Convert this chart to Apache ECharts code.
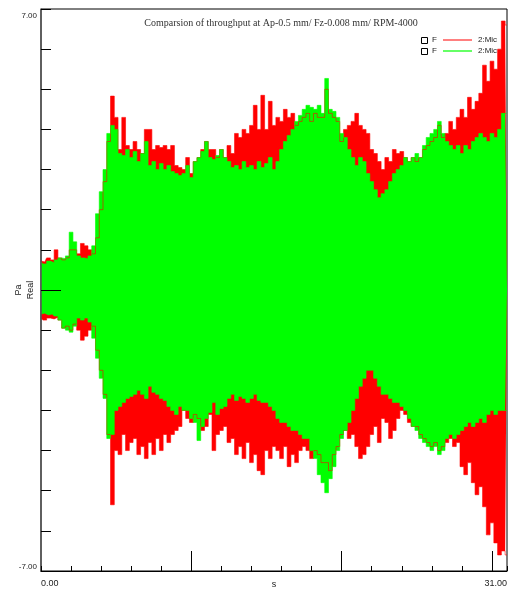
<!DOCTYPE html>
<html>
<head>
<meta charset="utf-8">
<script src="https://cdn.jsdelivr.net/npm/echarts@6/dist/echarts.min.js"></script>
<style>
  html, body { margin: 0; padding: 0; background: #fff; }
  #chart { width: 510px; height: 595px; }
</style>
</head>
<body>
<div id="chart"></div>
<script>
// sampling of the envelope readings (s)
var tStep = 0.25;

// Red trace envelope (F / 2:Mic, first run), Pa
var redUpper = [
  0.72,0.70,0.80,0.75, 1.00,0.80,0.75,0.80, 1.00,1.00,0.90,1.16, 1.10,1.00,0.90,1.30,
  2.00,2.70,3.70,4.83, 4.30,3.50,4.30,3.60, 3.50,3.70,3.50,3.40, 4.00,4.00,3.50,3.60,
  3.55,3.60,3.50,3.60, 3.10,3.05,3.00,3.30, 2.90,3.20,3.30,3.50, 3.70,3.50,3.50,3.30,
  3.50,3.30,3.60,3.40, 3.90,3.80,4.00,3.90, 4.10,4.60,4.00,4.85, 4.00,4.70,4.10,4.30,
  4.20,4.50,4.30,4.40, 4.10,4.20,4.30,4.40, 4.20,4.40,4.30,4.30, 5.00,4.40,4.30,4.20,
  3.70,4.00,4.10,4.20, 4.40,4.10,4.00,3.90, 3.50,3.40,3.20,3.00, 3.30,3.20,3.50,3.40,
  3.45,3.30,3.20,3.30, 3.20,3.30,3.50,3.60, 3.70,3.80,4.10,3.80, 3.90,4.20,4.00,4.30,
  4.50,4.30,4.80,4.50, 4.70,4.90,5.60,5.20, 5.70,5.50,6.00,6.70, 6.60
];
var redLower = [
  -0.70,-0.75,-0.70,-0.72, -0.68,-0.75,-0.95,-0.90, -1.00,-0.85,-1.00,-1.25, -1.15,-1.00,-0.90,-1.50,
  -2.00,-2.60,-3.60,-5.35, -4.00,-4.10,-3.60,-4.00, -3.80,-3.70,-4.10,-3.90, -4.20,-3.80,-4.10,-3.70,
  -4.00,-3.60,-3.80,-3.60, -3.50,-3.40,-3.00,-3.20, -3.30,-3.10,-3.20,-3.50, -3.40,-3.10,-4.00,-3.60,
  -3.50,-3.40,-3.80,-3.70, -4.10,-3.90,-4.20,-3.80, -4.30,-4.10,-4.50,-4.60, -4.00,-4.20,-3.90,-4.00,
  -4.20,-3.90,-4.40,-4.10, -4.30,-4.00,-3.90,-4.00, -4.20,-4.00,-4.10,-4.30, -4.30,-4.50,-4.10,-3.90,
  -3.60,-3.50,-3.70,-3.60, -3.90,-4.20,-4.10,-3.90, -3.60,-3.40,-3.80,-3.20, -3.30,-3.70,-3.50,-3.20,
  -3.00,-3.10,-3.30,-3.40, -3.40,-3.60,-3.70,-3.80, -3.90,-3.80,-4.00,-3.90, -3.80,-3.70,-3.90,-3.80,
  -4.40,-4.60,-4.30,-4.80, -5.10,-4.90,-5.40,-6.10, -5.80,-6.30,-6.60,-6.50, -6.60
];

// Green trace envelope (F / 2:Mic, second run), Pa
var greenUpper = [
  0.70,0.65,0.72,0.68, 0.75,0.80,0.78,0.85, 1.44,1.20,0.85,0.80, 0.78,0.85,1.10,1.90,
  2.45,3.00,3.90,4.10, 4.00,3.40,3.35,3.50, 3.30,3.45,3.20,3.40, 3.70,3.10,3.20,3.00,
  3.15,3.00,3.10,2.95, 2.90,2.85,2.90,3.10, 2.80,3.20,3.30,3.45, 3.70,3.30,3.25,3.35,
  3.50,3.30,3.20,3.05, 3.10,3.00,3.20,3.05, 3.10,3.00,3.20,3.05, 3.15,3.30,3.00,3.20,
  3.50,3.70,3.85,4.00, 4.20,4.35,4.50,4.60, 4.55,4.50,4.60,4.40, 5.27,4.50,4.45,4.30,
  3.90,3.80,3.50,3.30, 3.10,3.30,3.20,2.90, 2.70,2.50,2.30,2.40, 2.50,2.70,2.90,3.00,
  3.10,3.30,3.20,3.30, 3.40,3.30,3.60,3.80, 3.90,4.00,4.20,3.90, 3.70,3.60,3.50,3.60,
  3.40,3.60,3.50,3.70, 3.80,3.90,3.80,3.70, 3.90,3.80,4.00,4.40, 4.40
];
var greenLower = [
  -0.60,-0.58,-0.62,-0.60, -0.65,-0.75,-0.95,-1.00, -1.05,-0.90,-0.70,-0.75, -0.70,-0.80,-1.20,-1.70,
  -2.20,-2.70,-3.70,-3.60, -3.00,-2.90,-2.80,-2.70, -2.65,-2.60,-2.50,-2.60, -2.70,-2.40,-2.55,-2.60,
  -2.70,-2.75,-2.90,-3.00, -3.10,-2.90,-3.00,-3.00, -3.20,-3.30,-3.75,-3.40, -3.20,-3.05,-2.80,-3.10,
  -2.95,-2.90,-2.70,-2.60, -2.75,-2.65,-2.70,-2.80, -2.70,-2.60,-2.75,-2.80, -2.80,-2.90,-3.00,-3.20,
  -3.30,-3.30,-3.40,-3.50, -3.50,-3.60,-3.70,-3.70, -4.00,-4.20,-4.60,-4.80, -5.05,-4.70,-4.40,-4.00,
  -3.70,-3.50,-3.30,-3.00, -2.70,-2.40,-2.20,-2.00, -2.00,-2.20,-2.40,-2.60, -2.60,-2.70,-2.80,-2.80,
  -2.90,-3.00,-3.20,-3.40, -3.50,-3.70,-3.80,-3.90, -4.00,-3.90,-4.10,-4.00, -3.70,-3.60,-3.70,-3.60,
  -3.50,-3.40,-3.30,-3.40, -3.30,-3.20,-3.30,-3.10, -3.00,-3.10,-3.00,-3.00, -3.00
];

var xLabelValues = [0, 31];
var yLabelValues = [-7, 7];
var xMajorTicks = [10, 20, 30];
var yMajorTicks = [0];

function pairs(vals) {
  return vals.map(function (v, i) { return [+(i * tStep).toFixed(2), v]; });
}

function band(name, vals, color) {
  return {
    name: name,
    type: "line",
    data: pairs(vals),
    symbol: "none",
    step: "middle",
    z: 2,
    lineStyle: { color: color, width: 0.6 },
    areaStyle: { color: color, opacity: 1, origin: 0 },
    itemStyle: { color: color },
    animation: false,
    silent: true
  };
}

var chartDom = document.getElementById("chart");
var myChart = echarts.init(chartDom, null, { renderer: "canvas" });
var option;

option = {
  backgroundColor: "#fff",
  animation: false,
  title: {
    text: "Comparsion of throughput at Ap-0.5 mm/ Fz-0.008 mm/ RPM-4000",
    left: 276,
    top: 13,
    textAlign: "center",
    textStyle: { fontFamily: "Liberation Serif", fontSize: 10, fontWeight: "normal", color: "#333" }
  },
  grid: {
    left: 41, right: 3, top: 9, bottom: 24,
    outerBoundsMode: "none", containLabel: false,
    show: true, borderColor: "#000", borderWidth: 1, backgroundColor: "transparent"
  },
  xAxis: [
    {
      type: "value", min: 0, max: 31, interval: 2, z: 10,
      name: "s", nameLocation: "middle", nameGap: 9, nameMoveOverlap: false,
      nameTextStyle: { fontFamily: "Liberation Sans", fontSize: 9, color: "#222" },
      axisLine: { show: true, onZero: false, lineStyle: { color: "#000", width: 1 } },
      axisTick: { show: true, inside: true, length: 5, lineStyle: { color: "#000" } },
      axisLabel: {
        customValues: xLabelValues, margin: 8,
        fontFamily: "Liberation Sans", fontSize: 9, color: "#222",
        alignMinLabel: "left", alignMaxLabel: "right",
        formatter: function (v) { return v.toFixed(2); }
      },
      splitLine: { show: false }
    },
    {
      type: "value", min: 0, max: 31, position: "bottom", z: 10,
      axisLine: { show: false, onZero: false },
      axisTick: { show: true, inside: true, length: 20, customValues: xMajorTicks, lineStyle: { color: "#000" } },
      axisLabel: { show: false },
      splitLine: { show: false }
    }
  ],
  yAxis: [
    {
      type: "value", min: -7, max: 7, interval: 1, z: 10,
      name: "Pa\nReal", nameLocation: "middle", nameGap: 4, nameRotate: 90, nameMoveOverlap: false,
      nameTextStyle: { fontFamily: "Liberation Sans", fontSize: 9, color: "#222", lineHeight: 12 },
      axisLine: { show: true, onZero: false, lineStyle: { color: "#555", width: 1.5 } },
      axisTick: { show: true, inside: true, length: 10, lineStyle: { color: "#000" } },
      axisLabel: {
        customValues: yLabelValues, margin: 4,
        fontFamily: "Liberation Sans", fontSize: 8, color: "#222",
        verticalAlignMinLabel: "bottom", verticalAlignMaxLabel: "top",
        padding: [3, 0, 0, 0],
        formatter: function (v) { return v.toFixed(2); }
      },
      splitLine: { show: false }
    },
    {
      type: "value", min: -7, max: 7, position: "left", z: 10,
      axisLine: { show: false, onZero: false },
      axisTick: { show: true, inside: true, length: 20, customValues: yMajorTicks, lineStyle: { color: "#000" } },
      axisLabel: { show: false },
      splitLine: { show: false }
    }
  ],
  series: [
    band("red upper", redUpper, "#ff0000"),
    band("red lower", redLower, "#ff0000"),
    band("green upper", greenUpper, "#00ff00"),
    band("green lower", greenLower, "#00ff00")
  ],
  graphic: [
    { type: "rect", z: 20, shape: { x: 421.5, y: 37.5, width: 6, height: 6 }, style: { fill: "#fff", stroke: "#000", lineWidth: 1 } },
    { type: "text", z: 20, x: 432, y: 36, style: { text: "F", font: "8px Liberation Sans", fill: "#222" } },
    { type: "line", z: 20, shape: { x1: 443, y1: 40, x2: 472, y2: 40 }, style: { stroke: "#ff0000", lineWidth: 1 } },
    { type: "text", z: 20, x: 478, y: 36, style: { text: "2:Mic", font: "8px Liberation Sans", fill: "#222" } },
    { type: "rect", z: 20, shape: { x: 421.5, y: 48.5, width: 6, height: 6 }, style: { fill: "#fff", stroke: "#000", lineWidth: 1 } },
    { type: "text", z: 20, x: 432, y: 47, style: { text: "F", font: "8px Liberation Sans", fill: "#222" } },
    { type: "line", z: 20, shape: { x1: 443, y1: 51, x2: 472, y2: 51 }, style: { stroke: "#66ff66", lineWidth: 2 } },
    { type: "text", z: 20, x: 478, y: 47, style: { text: "2:Mic", font: "8px Liberation Sans", fill: "#222" } }
  ]
};

option && myChart.setOption(option);
</script>
</body>
</html>
